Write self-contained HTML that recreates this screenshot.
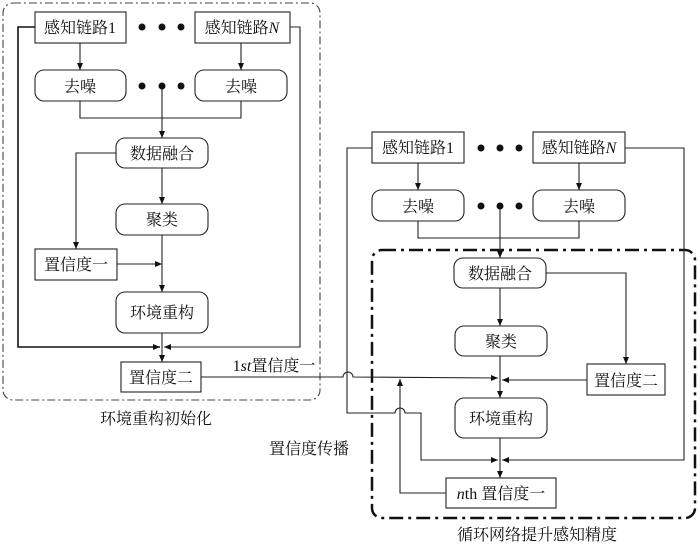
<!DOCTYPE html>
<html><head><meta charset="utf-8"><style>
html,body{margin:0;padding:0;background:#fff;}
svg{display:block;}
text{font-family:"Liberation Serif","Noto Serif CJK SC","Noto Sans CJK SC",serif;font-size:16px;fill:#111;}
</style></head><body>
<svg width="700" height="545" viewBox="0 0 700 545" xmlns="http://www.w3.org/2000/svg">
<defs>
<marker id="a" markerWidth="8" markerHeight="8" refX="7" refY="4" orient="auto" markerUnits="userSpaceOnUse">
<path d="M0,1 L7,4 L0,7 z" fill="#111"/></marker>
</defs>
<g fill="none" stroke="#222" stroke-width="1.1">
<rect x="3" y="3" width="317" height="397" rx="10" stroke="#444" stroke-dasharray="8,3,2,3"/>
<rect x="372" y="250" width="323" height="268" rx="10" stroke="#111" stroke-width="2.5" stroke-dasharray="14,5,3,5"/>

<rect x="35" y="12" width="91" height="31"/>
<rect x="195" y="12" width="95" height="31"/>
<rect x="35" y="70" width="91" height="31" rx="9"/>
<rect x="195" y="70" width="92" height="31" rx="9"/>
<rect x="116" y="138" width="92" height="30" rx="9"/>
<rect x="116" y="204" width="92" height="31" rx="9"/>
<rect x="35" y="249" width="82" height="31"/>
<rect x="116" y="292" width="92" height="41" rx="9"/>
<rect x="121" y="362" width="80" height="30"/>
<line x1="80" y1="43" x2="80" y2="70" marker-end="url(#a)"/>
<line x1="241" y1="43" x2="241" y2="70" marker-end="url(#a)"/>
<polyline points="80,101 80,118 241,118 241,101"/>
<line x1="162" y1="86" x2="162" y2="138" marker-end="url(#a)"/>
<line x1="162" y1="168" x2="162" y2="204" marker-end="url(#a)"/>
<polyline points="116,153 76,153 76,249" marker-end="url(#a)"/>
<line x1="117" y1="264" x2="162" y2="264" marker-end="url(#a)"/>
<line x1="162" y1="235" x2="162" y2="292" marker-end="url(#a)"/>
<polyline points="35,27 18,27 18,347 160,347" stroke="#111" stroke-width="1.6" marker-end="url(#a)"/>
<polyline points="290,27 300,27 300,347 164,347" marker-end="url(#a)"/>
<line x1="162" y1="333" x2="162" y2="362" marker-end="url(#a)"/>
<path d="M201,377 L343,377 A5,5 0 0 1 353,377 L498,378" marker-end="url(#a)"/>

<rect x="372" y="132" width="92" height="31"/>
<rect x="533" y="132" width="92" height="31"/>
<rect x="372" y="190" width="92" height="31" rx="9"/>
<rect x="533" y="190" width="92" height="31" rx="9"/>
<rect x="454" y="258" width="92" height="30" rx="9"/>
<rect x="455" y="326" width="92" height="30" rx="9"/>
<rect x="587" y="364" width="78" height="31"/>
<rect x="455" y="398" width="92" height="40" rx="9"/>
<rect x="446" y="478" width="110" height="30"/>
<line x1="418" y1="163" x2="418" y2="190" marker-end="url(#a)"/>
<line x1="579" y1="163" x2="579" y2="190" marker-end="url(#a)"/>
<polyline points="418,221 418,238 579,238 579,221"/>
<line x1="500" y1="206" x2="500" y2="258" marker-end="url(#a)"/>
<polyline points="546,273 626,273 626,364" marker-end="url(#a)"/>
<line x1="500" y1="288" x2="500" y2="326" marker-end="url(#a)"/>
<line x1="587" y1="380" x2="502" y2="380" marker-end="url(#a)"/>
<line x1="500" y1="356" x2="500" y2="398" marker-end="url(#a)"/>
<path d="M372,148 L347,148 L347,413 L395,413 A5,5 0 0 1 405,413 L421,413 L421,460 L498,460" marker-end="url(#a)"/>
<polyline points="625,148 684,148 684,460 502,460" marker-end="url(#a)"/>
<line x1="500" y1="438" x2="500" y2="478" marker-end="url(#a)"/>
<polyline points="446,493 400,493 400,379" marker-end="url(#a)"/>
</g>
<g fill="#111">
<circle cx="142" cy="27" r="3.5"/><circle cx="162" cy="27" r="3.5"/><circle cx="181" cy="27" r="3.5"/>
<circle cx="142" cy="86" r="3.5"/><circle cx="162" cy="86" r="3.5"/><circle cx="181" cy="86" r="3.5"/>
<circle cx="481" cy="148" r="3.5"/><circle cx="500" cy="148" r="3.5"/><circle cx="519" cy="148" r="3.5"/>
<circle cx="481" cy="206" r="3.5"/><circle cx="500" cy="206" r="3.5"/><circle cx="519" cy="206" r="3.5"/>
</g>
<g text-anchor="middle">
<text x="80" y="33">感知链路1</text>
<text x="242" y="33">感知链路<tspan font-style="italic">N</tspan></text>
<text x="80" y="92">去噪</text>
<text x="241" y="92">去噪</text>
<text x="162" y="159">数据融合</text>
<text x="162" y="225">聚类</text>
<text x="76" y="270">置信度一</text>
<text x="162" y="318">环境重构</text>
<text x="161" y="383">置信度二</text>
<text x="274" y="371">1<tspan font-style="italic">st</tspan>置信度一</text>
<text x="156" y="424">环境重构初始化</text>
<text x="309" y="454">置信度传播</text>
<text x="418" y="153">感知链路1</text>
<text x="579" y="153">感知链路<tspan font-style="italic">N</tspan></text>
<text x="418" y="212">去噪</text>
<text x="579" y="212">去噪</text>
<text x="500" y="279">数据融合</text>
<text x="501" y="347">聚类</text>
<text x="626" y="386">置信度二</text>
<text x="501" y="424">环境重构</text>
<text x="501" y="499"><tspan font-style="italic">n</tspan>th 置信度一</text>
<text x="537" y="540">循环网络提升感知精度</text>
</g>
</svg>
</body></html>
